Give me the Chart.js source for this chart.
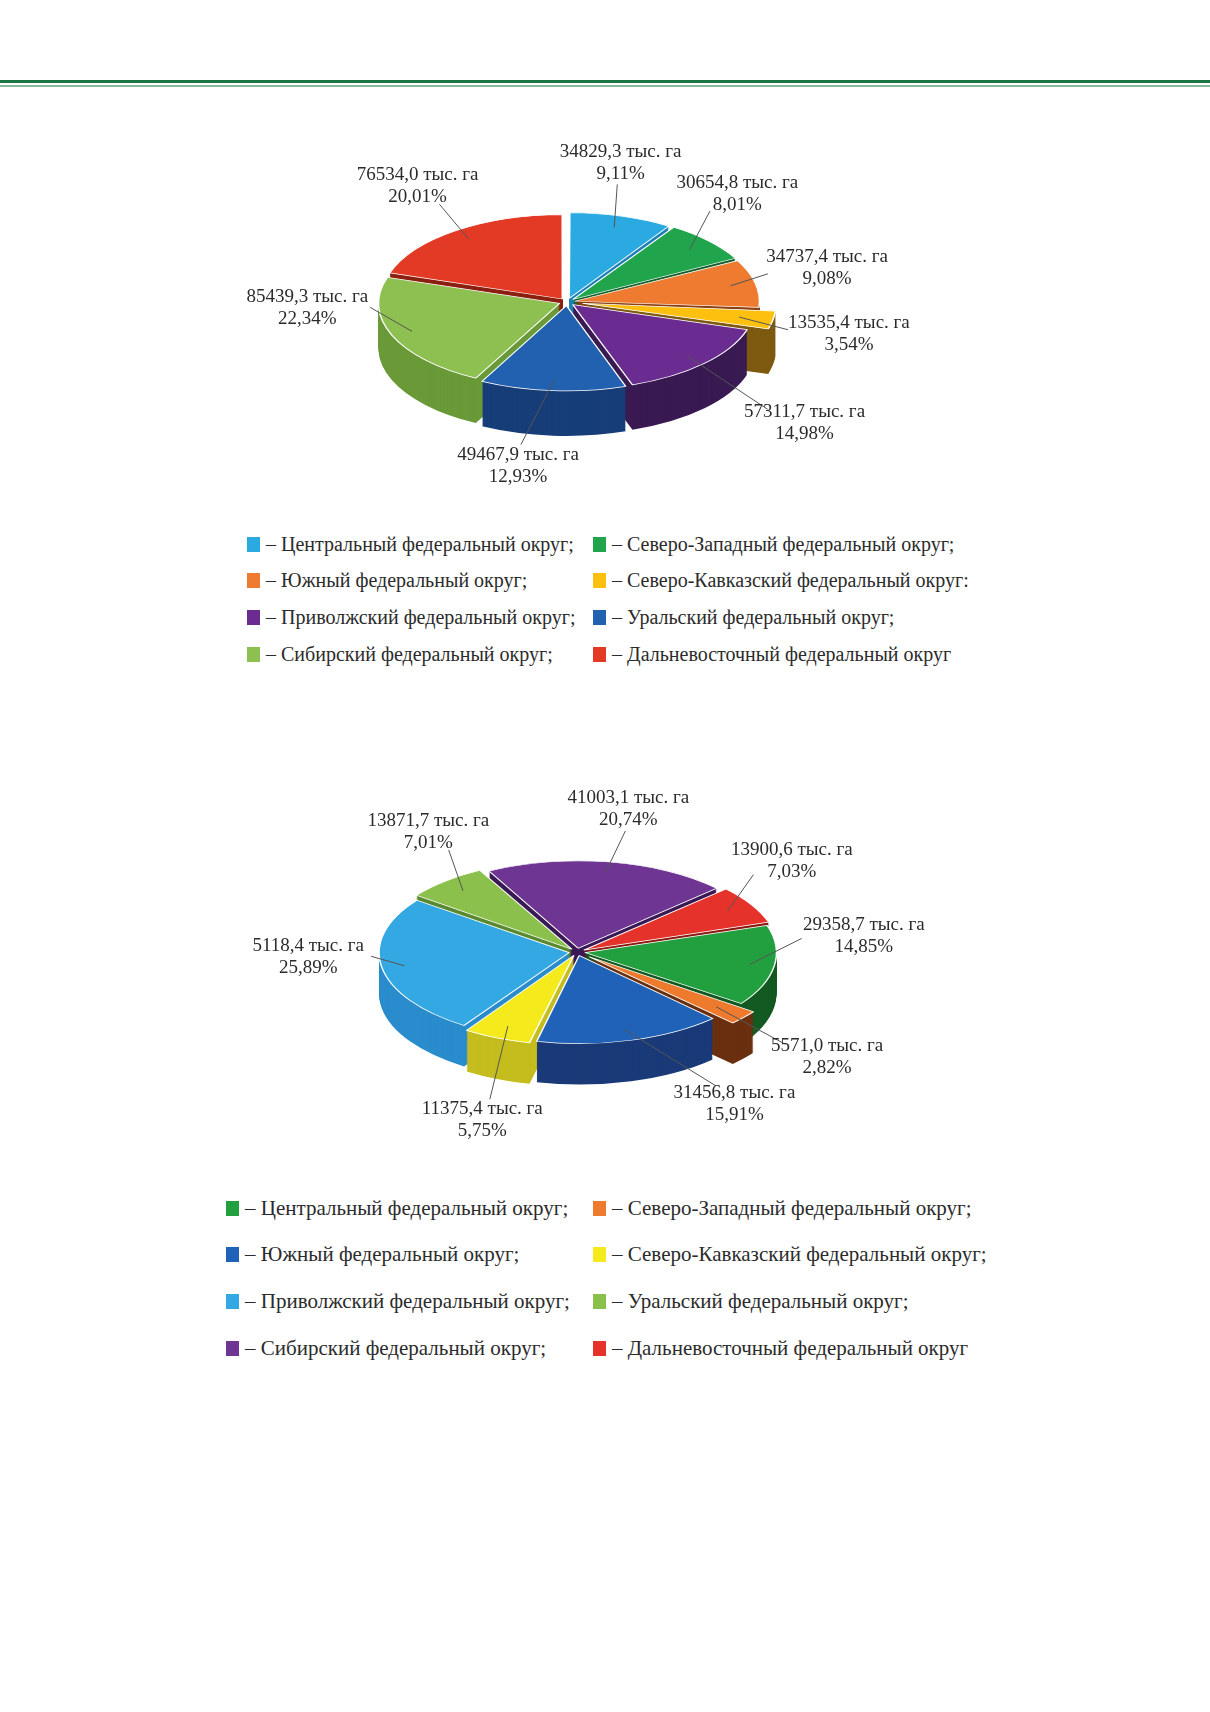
<!DOCTYPE html>
<html lang="ru">
<head>
<meta charset="utf-8">
<title>Федеральные округа</title>
<script src="https://cdn.jsdelivr.net/npm/chart.js@4/dist/chart.umd.min.js"></script>
<style>
  body { margin: 0; background: #fff; }
  #page { position: relative; width: 1210px; height: 1712px; overflow: hidden; font-family: "Liberation Serif", "DejaVu Serif", serif; color: #2b2b2b; }
  .rule1 { position: absolute; left: 0; top: 80px; width: 1210px; height: 3px; background: #1b7441; }
  .rule2 { position: absolute; left: 0; top: 85px; width: 1210px; height: 2px; background: #86b996; }
  canvas { position: absolute; }
  .legend { position: absolute; }
  .item { position: absolute; display: flex; align-items: center; white-space: nowrap; }
  .mark { display: inline-block; width: 13px; height: 15px; margin-right: 6px; }
</style>
</head>
<body>
<div id="page">
  <div class="rule1"></div>
  <div class="rule2"></div>
  <canvas id="pieTop" width="800" height="420" style="left:167px; top:92px;"></canvas>
  <div class="legend" id="legTop" style="left:247px; top:526px;"></div>
  <canvas id="pieBot" width="800" height="400" style="left:177px; top:752px;"></canvas>
  <div class="legend" id="legBot" style="left:226px; top:1185px;"></div>
</div>
<script>
// Данные верхней диаграммы
const okruga1 = ["Центральный", "Северо-Западный", "Южный", "Северо-Кавказский",
  "Приволжский", "Уральский", "Сибирский", "Дальневосточный"];
const ploshad1 = [34829.3, 30654.8, 34737.4, 13535.4, 57311.7, 49467.9, 85439.3, 76534.0];
const procent1 = [9.11, 8.01, 9.08, 3.54, 14.98, 12.93, 22.34, 20.01];
const konec1 = [";", ";", ";", ":", ";", ";", ";", ""];

// Данные нижней диаграммы
const okruga2 = ["Центральный", "Северо-Западный", "Южный", "Северо-Кавказский",
  "Приволжский", "Уральский", "Сибирский", "Дальневосточный"];
const ploshad2 = [29358.7, 5571.0, 31456.8, 11375.4, 5118.4, 13871.7, 41003.1, 13900.6];
const procent2 = [14.85, 2.82, 15.91, 5.75, 25.89, 7.01, 20.74, 7.03];
const konec2 = [";", ";", ";", ";", ";", ";", ";", ""];

// Цвета
const verh1 = ["#2ba9e1", "#21a54c", "#ee7b30", "#fdc00f", "#6b2c91", "#2161b0", "#8dc050", "#e33a26"];
const bok1 = ["#1f80b8", "#145e2c", "#8a4012", "#7d5a10", "#3a1a52", "#173e78", "#6a9a38", "#8a2010"];
const verh2 = ["#22a040", "#ee7a2e", "#2062b8", "#f4ea1c", "#33a8e2", "#8cc04c", "#6e3593", "#e5322a"];
const bok2 = ["#125a22", "#6a3010", "#1a3a78", "#c4bd1e", "#2a8ccc", "#5a8a30", "#3a1a55", "#8a1a10"];

function zapyataya(n, d) {
  return n.toFixed(d).replace(".", ",");
}

// Плагин: наклон круга, боковая стенка и подписи
const pie3d = {
  id: "pie3d",
  beforeDatasetsDraw(chart, args, opts) {
    const ctx = chart.ctx;
    const arcs = chart.getDatasetMeta(0).data;
    const cx = arcs[0].x, cy = arcs[0].y;
    ctx.save();
    ctx.translate(cx, cy);
    ctx.scale(1, opts.tilt);
    ctx.translate(-cx, -cy);
    for (let d = opts.depth; d > 0; d--) {
      ctx.save();
      ctx.translate(0, d / opts.tilt);
      arcs.forEach((arc, i) => {
        const own = arc.options;
        arc.options = Object.assign({}, own, { backgroundColor: opts.sides[i], borderWidth: 0 });
        arc.draw(ctx);
        arc.options = own;
      });
      ctx.restore();
    }
  },
  afterDatasetsDraw(chart) {
    chart.ctx.restore();
  },
  afterDraw(chart, args, opts) {
    const ctx = chart.ctx;
    const arcs = chart.getDatasetMeta(0).data;
    const k = opts.tilt;
    ctx.save();
    ctx.font = opts.font;
    ctx.fillStyle = "#2b2b2b";
    ctx.strokeStyle = "#555";
    ctx.lineWidth = 1;
    ctx.textAlign = "center";
    ctx.textBaseline = "middle";
    arcs.forEach((arc, i) => {
      const mid = (arc.startAngle + arc.endAngle) / 2;
      const shift = (arc.options.offset || 0) / 4;
      const r = arc.outerRadius;
      const sx = arc.x + Math.cos(mid) * (shift + r * 0.88);
      const sy = arc.y + Math.sin(mid) * (shift + r * 0.88) * k;
      const a = mid + opts.turn[i] * Math.PI / 180;
      const c = Math.cos(a), s = Math.sin(a);
      const R = r + shift + opts.gap + opts.extra[i];
      const ax = arc.x + c * R;
      const ay = arc.y + s * R * k + Math.max(0, s) * opts.depth + Math.min(0, s) * opts.lift;
      ctx.beginPath();
      ctx.moveTo(sx, sy);
      ctx.lineTo(ax, ay);
      ctx.stroke();
      const tx = ax + c * Math.abs(c) * 63;
      const ty = ay + s * 22;
      ctx.fillText(opts.lines1[i], tx, ty - 11);
      ctx.fillText(opts.lines2[i], tx, ty + 11);
    });
    ctx.restore();
  }
};

function risovat(id, procenty, ploshadi, cveta, boka, povorot, radius, otstup, opts) {
  return new Chart(document.getElementById(id), {
    type: "pie",
    data: {
      labels: okruga1,
      datasets: [{
        data: procenty,
        backgroundColor: cveta,
        borderColor: "#ffffff",
        borderWidth: 1.5,
        offset: otstup
      }]
    },
    options: {
      responsive: false,
      animation: false,
      events: [],
      rotation: povorot,
      radius: radius,
      layout: { padding: 0 },
      plugins: {
        legend: { display: false },
        tooltip: { enabled: false },
        pie3d: Object.assign({
          sides: boka,
          font: '19px "Liberation Serif"',
          lines1: ploshadi.map(v => zapyataya(v, 1) + " тыс. га"),
          lines2: procenty.map(v => zapyataya(v, 2) + "%")
        }, opts)
      }
    },
    plugins: [pie3d]
  });
}

risovat("pieTop", procent1, ploshad1, verh1, bok1, 0, 181,
  [32, 32, 32, 64, 32, 32, 32, 32],
  { tilt: 0.465, depth: 45, gap: 28, lift: 20,
    turn: [-3, -6, -2, 0, -4, 8, 20, 0],
    extra: [0, 0, -10, 0, 45, 0, -20, 0] });

risovat("pieBot", procent2, ploshad2, verh2, bok2, 72, 190,
  [32, 64, 32, 32, 32, 32, 32, 32],
  { tilt: 0.46, depth: 41, gap: 28, lift: 20,
    turn: [-15, -5, -17, -3, 8, 6, 3, -8],
    extra: [0, 22, 31, 26, -20, 0, 0, 0] });

// Легенда в две колонки
function legenda(id, names, cveta, konec, shag, kol2, size) {
  const box = document.getElementById(id);
  names.forEach((name, i) => {
    const el = document.createElement("div");
    el.className = "item";
    el.style.left = (i % 2 === 0 ? 0 : kol2) + "px";
    el.style.top = (Math.floor(i / 2) * shag) + "px";
    el.style.height = shag + "px";
    el.style.fontSize = size + "px";
    el.innerHTML = '<span class="mark" style="background:' + cveta[i] + '"></span>' +
      "– " + name + " федеральный округ" + konec[i];
    box.appendChild(el);
  });
}

legenda("legTop", okruga1, verh1, konec1, 36.6, 346, 20);
legenda("legBot", okruga2, verh2, konec2, 46.6, 367, 21);
</script>
</body>
</html>
